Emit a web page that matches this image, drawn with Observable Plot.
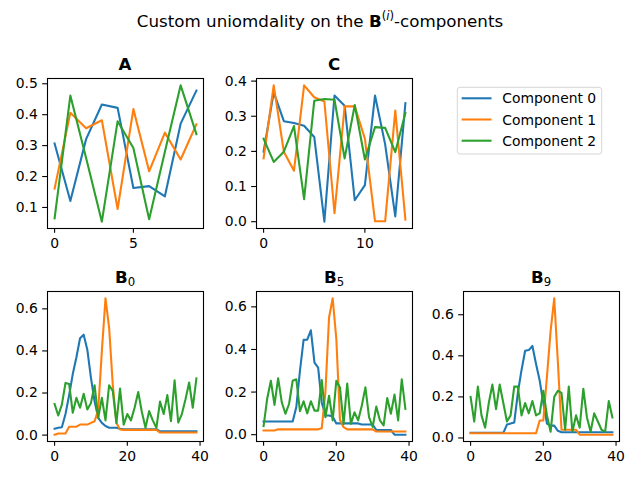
<!DOCTYPE html>
<html>
<head>
<meta charset="utf-8">
<script src="https://cdn.jsdelivr.net/npm/d3@7"></script>
<script src="https://cdn.jsdelivr.net/npm/@observablehq/plot@0.6"></script>
<style>
  html, body { margin: 0; padding: 0; background: #fff; }
  #fig { position: relative; width: 640px; height: 480px; overflow: hidden; font-family: "DejaVu Sans", sans-serif; }
  #fig svg { position: absolute; overflow: visible; }
</style>
</head>
<body>
<div id="fig"></div>
<script>
// Series names and colours (shared by every panel and the legend)
const seriesNames = ["Component 0", "Component 1", "Component 2"];
const seriesColors = ["#1f77b4", "#ff7f0e", "#2ca02c"];

// Panel A (10 points per component)
const aComp0 = [0.307, 0.121, 0.321, 0.433, 0.422, 0.163, 0.169, 0.136, 0.371, 0.478];
const aComp1 = [0.161, 0.406, 0.356, 0.382, 0.095, 0.418, 0.217, 0.342, 0.255, 0.369];
const aComp2 = [0.065, 0.462, 0.260, 0.054, 0.379, 0.292, 0.062, 0.280, 0.495, 0.337];

// Panel C (15 points per component)
const cComp0 = [0.199, 0.368, 0.286, 0.281, 0.273, 0.241, 0.000, 0.359, 0.330, 0.061, 0.104, 0.359, 0.220, 0.015, 0.337];
const cComp1 = [0.180, 0.388, 0.199, 0.145, 0.388, 0.354, 0.342, 0.024, 0.328, 0.328, 0.236, 0.001, 0.001, 0.316, 0.006];
const cComp2 = [0.236, 0.170, 0.199, 0.272, 0.064, 0.344, 0.349, 0.347, 0.180, 0.332, 0.177, 0.269, 0.267, 0.198, 0.309];

// Panels B_0, B_5, B_9 (40 points per component)
const b0Comp0 = [0.030, 0.035, 0.037, 0.100, 0.190, 0.290, 0.370, 0.460, 0.477, 0.406,
                 0.272, 0.161, 0.082, 0.058, 0.043, 0.035, 0.035, 0.035, 0.030, 0.028,
                 0.028, 0.028, 0.028, 0.028, 0.028, 0.028, 0.028, 0.028, 0.028, 0.018,
                 0.018, 0.018, 0.018, 0.018, 0.018, 0.018, 0.018, 0.018, 0.018, 0.018];
const b0Comp1 = [0.002, 0.008, 0.008, 0.008, 0.040, 0.040, 0.040, 0.050, 0.050, 0.050,
                 0.058, 0.066, 0.120, 0.400, 0.650, 0.510, 0.240, 0.058, 0.027, 0.025,
                 0.025, 0.025, 0.025, 0.025, 0.025, 0.025, 0.025, 0.025, 0.025, 0.012,
                 0.012, 0.012, 0.012, 0.012, 0.012, 0.012, 0.012, 0.012, 0.012, 0.012];
const b0Comp2 = [0.148, 0.093, 0.145, 0.248, 0.243, 0.106, 0.177, 0.130, 0.196, 0.122,
                 0.153, 0.237, 0.082, 0.177, 0.070, 0.237, 0.210, 0.058, 0.221, 0.050,
                 0.100, 0.070, 0.130, 0.205, 0.110, 0.035, 0.114, 0.070, 0.035, 0.160,
                 0.100, 0.190, 0.066, 0.260, 0.060, 0.100, 0.170, 0.250, 0.130, 0.270];

const b5Comp0 = [0.062, 0.062, 0.062, 0.062, 0.062, 0.062, 0.062, 0.062, 0.062, 0.130,
                 0.300, 0.445, 0.446, 0.490, 0.338, 0.315, 0.150, 0.090, 0.090, 0.085,
                 0.053, 0.053, 0.053, 0.053, 0.053, 0.053, 0.053, 0.048, 0.048, 0.048,
                 0.048, 0.022, 0.022, 0.022, 0.022, 0.022, 0.000, 0.000, 0.000, 0.000];
const b5Comp1 = [0.020, 0.020, 0.020, 0.020, 0.025, 0.025, 0.025, 0.025, 0.025, 0.025,
                 0.025, 0.025, 0.025, 0.025, 0.025, 0.025, 0.030, 0.200, 0.550, 0.640,
                 0.450, 0.070, 0.035, 0.025, 0.025, 0.025, 0.025, 0.025, 0.025, 0.025,
                 0.025, 0.015, 0.015, 0.015, 0.015, 0.015, 0.015, 0.015, 0.015, 0.015];
const b5Comp2 = [0.040, 0.170, 0.253, 0.140, 0.265, 0.152, 0.098, 0.144, 0.253, 0.260,
                 0.110, 0.157, 0.100, 0.157, 0.113, 0.113, 0.256, 0.082, 0.183, 0.067,
                 0.253, 0.222, 0.050, 0.240, 0.051, 0.105, 0.067, 0.136, 0.222, 0.082,
                 0.036, 0.132, 0.067, 0.043, 0.172, 0.098, 0.188, 0.067, 0.260, 0.121];

const b9Comp0 = [0.025, 0.025, 0.025, 0.025, 0.025, 0.025, 0.025, 0.025, 0.025, 0.025,
                 0.065, 0.070, 0.075, 0.220, 0.330, 0.425, 0.428, 0.448, 0.360, 0.280,
                 0.170, 0.070, 0.060, 0.060, 0.035, 0.028, 0.028, 0.028, 0.028, 0.028,
                 0.028, 0.028, 0.028, 0.028, 0.028, 0.028, 0.028, 0.028, 0.028, 0.028];
const b9Comp1 = [0.023, 0.023, 0.023, 0.023, 0.023, 0.023, 0.023, 0.023, 0.023, 0.023,
                 0.023, 0.023, 0.023, 0.023, 0.023, 0.023, 0.023, 0.023, 0.023, 0.085,
                 0.085, 0.300, 0.520, 0.680, 0.370, 0.040, 0.040, 0.040, 0.040, 0.040,
                 0.016, 0.016, 0.016, 0.016, 0.016, 0.016, 0.016, 0.016, 0.016, 0.016];
const b9Comp2 = [0.200, 0.080, 0.250, 0.110, 0.050, 0.170, 0.260, 0.140, 0.260, 0.170,
                 0.080, 0.110, 0.250, 0.250, 0.110, 0.170, 0.120, 0.180, 0.110, 0.120,
                 0.230, 0.110, 0.030, 0.200, 0.230, 0.220, 0.040, 0.250, 0.030, 0.110,
                 0.050, 0.240, 0.100, 0.030, 0.120, 0.080, 0.040, 0.030, 0.180, 0.100];

// Tick values
const aXTicks = [0, 5];
const aYTicks = [0.1, 0.2, 0.3, 0.4, 0.5];
const cXTicks = [0, 10];
const cYTicks = [0.0, 0.1, 0.2, 0.3, 0.4];
const bXTicks = [0, 20, 40];
const bYTicks = [0.0, 0.2, 0.4, 0.6];

// Panel titles
const panelTitles = ["A", "C", "B", "B", "B"];
const panelSubscripts = [null, null, "0", "5", "9"];

// Grid layout of the axes boxes (px)
const colLeft = [47.3, 255.5, 463.3];
const rowTop = [78.3, 290.7];
const PW = 156, PH = 150;
const ML = 50, MR = 12, MT = 36, MB = 30;

const panels = [
  { values: [aComp0, aComp1, aComp2], xTicks: aXTicks, yTicks: aYTicks, col: 0, row: 0 },
  { values: [cComp0, cComp1, cComp2], xTicks: cXTicks, yTicks: cYTicks, col: 1, row: 0 },
  { values: [b0Comp0, b0Comp1, b0Comp2], xTicks: bXTicks, yTicks: bYTicks, col: 0, row: 1 },
  { values: [b5Comp0, b5Comp1, b5Comp2], xTicks: bXTicks, yTicks: bYTicks, col: 1, row: 1 },
  { values: [b9Comp0, b9Comp1, b9Comp2], xTicks: bXTicks, yTicks: bYTicks, col: 2, row: 1 }
];

const fig = document.getElementById("fig");

panels.forEach((p, k) => {
  const rows = [];
  p.values.forEach((vals, s) => vals.forEach((v, i) => rows.push({ x: i, y: v, series: seriesNames[s] })));
  const n = p.values[0].length;
  const all = p.values.flat();
  const lo = d3.min(all), hi = d3.max(all), pad = (hi - lo) * 0.05;
  const tickOpts = { tickSize: 4.86, tickPadding: 4.86, strokeWidth: 1.1, label: null, fill: "black" };

  const chart = Plot.plot({
    width: PW + ML + MR,
    height: PH + MT + MB,
    marginLeft: ML, marginRight: MR, marginTop: MT, marginBottom: MB,
    style: { fontFamily: "DejaVu Sans", fontSize: "13.9px", color: "black", background: "transparent", overflow: "visible" },
    x: { domain: [-(n - 1) * 0.05, (n - 1) * 1.05] },
    y: { domain: [lo - pad, hi + pad] },
    color: { domain: seriesNames, range: seriesColors },
    marks: [
      Plot.axisX({ ...tickOpts, ticks: p.xTicks, tickFormat: d3.format("d") }),
      Plot.axisY({ ...tickOpts, ticks: p.yTicks, tickFormat: d3.format(".1f") }),
      Plot.line(rows, { x: "x", y: "y", z: "series", stroke: "series", strokeWidth: 2.08,
                        strokeLinejoin: "round", strokeLinecap: "square" }),
      Plot.frame({ stroke: "black", strokeWidth: 1.1 })
    ]
  });

  // Bold panel title, with an optional subscript
  const t = d3.select(chart).append("text")
    .attr("x", ML + PW / 2).attr("y", MT - 8.5)
    .attr("text-anchor", "middle").attr("fill", "black")
    .attr("font-family", "DejaVu Sans").attr("font-size", 16.7);
  t.append("tspan").attr("font-weight", "bold").text(panelTitles[k]);
  if (panelSubscripts[k]) {
    t.append("tspan").attr("font-weight", "normal").attr("font-size", 11.7).attr("dy", 3.6).text(panelSubscripts[k]);
  }

  chart.style.left = (colLeft[p.col] - ML) + "px";
  chart.style.top = (rowTop[p.row] - MT) + "px";
  fig.appendChild(chart);
});

// Figure title and legend
const overlay = d3.select(fig).append("svg")
  .attr("width", 640).attr("height", 480)
  .style("left", "0px").style("top", "0px")
  .attr("font-family", "DejaVu Sans");

const sup = overlay.append("text")
  .attr("x", 320).attr("y", 27.3).attr("text-anchor", "middle")
  .attr("font-size", 16.7).attr("fill", "black");
sup.append("tspan").text("Custom uniomdality on the ");
sup.append("tspan").attr("font-weight", "bold").text("B");
sup.append("tspan").attr("font-size", 11.7).attr("dy", -7.6).text("(");
sup.append("tspan").attr("font-size", 11.7).attr("font-style", "italic").text("i");
sup.append("tspan").attr("font-size", 11.7).text(")");
sup.append("tspan").attr("dy", 7.6).text("-components");

const leg = overlay.append("g");
leg.append("rect")
  .attr("x", 457.3).attr("y", 87.3).attr("width", 144.4).attr("height", 66.7)
  .attr("rx", 2.8).attr("fill", "white").attr("fill-opacity", 0.8)
  .attr("stroke", "#d6d6d6").attr("stroke-width", 1);
const legRowY = [98.3, 119.5, 140.7];
seriesNames.forEach((name, i) => {
  leg.append("line")
    .attr("x1", 462.7).attr("x2", 490.5)
    .attr("y1", legRowY[i]).attr("y2", legRowY[i])
    .attr("stroke", seriesColors[i]).attr("stroke-width", 2.08).attr("stroke-linecap", "square");
  leg.append("text")
    .attr("x", 502.3).attr("y", legRowY[i] + 5.1)
    .attr("font-size", 13.9).attr("fill", "black").text(name);
});
</script>
</body>
</html>
